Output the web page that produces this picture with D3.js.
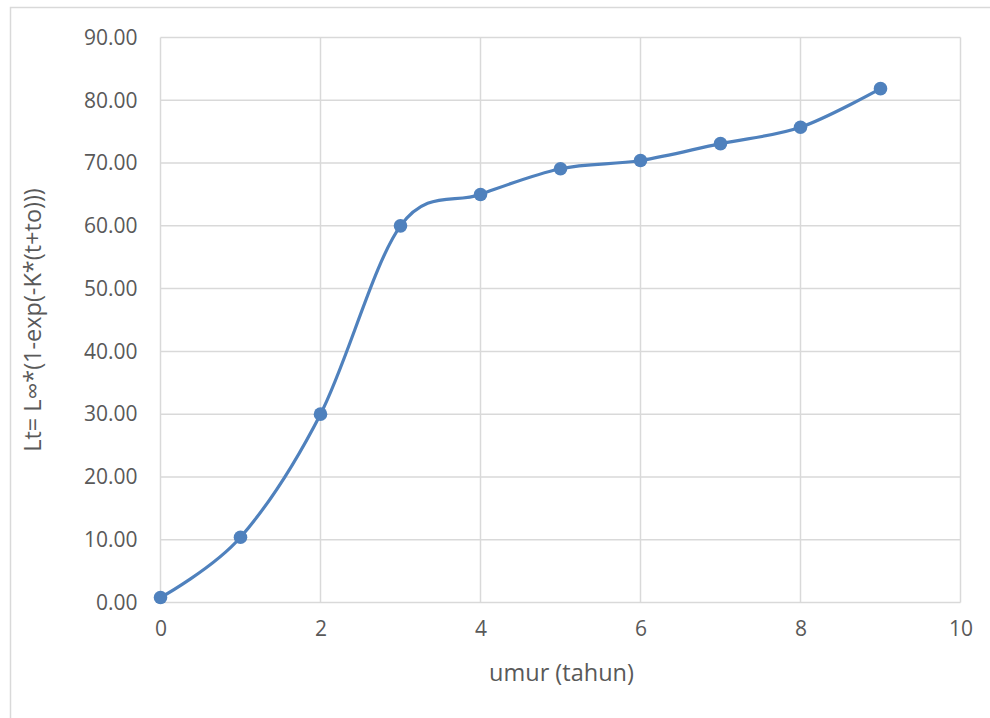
<!DOCTYPE html>
<html>
<head>
<meta charset="utf-8">
<script src="https://cdn.jsdelivr.net/npm/d3@7"></script>
<style>
  html, body { margin: 0; padding: 0; background: #fff; }
  svg { display: block; }
  text { font-family: "Open Sans", "Noto Sans", sans-serif; fill: #595959; }
</style>
</head>
<body>
<svg id="chart" width="990" height="718"></svg>
<script>
// Age (years) and computed length Lt
const ages = [0, 1, 2, 3, 4, 5, 6, 7, 8, 9];
const lengths = [0.8, 10.4, 30.0, 60.0, 65.0, 69.1, 70.4, 73.1, 75.7, 81.85];
const xTicks = [0, 2, 4, 6, 8, 10];
const yTicks = [0, 10, 20, 30, 40, 50, 60, 70, 80, 90];
const xTitle = "umur (tahun)";
const yTitle = "Lt= L∞*(1-exp(-K*(t+to)))";

const svg = d3.select("#chart");
const W = 990, H = 718;
const plot = { left: 160.5, right: 960.5, top: 37.5, bottom: 602.5 };
const gridColor = "#d9d9d9";
const seriesColor = "#4f81bd";

// outer chart frame
svg.append("rect")
  .attr("x", 10.5).attr("y", 7.5)
  .attr("width", W + 20).attr("height", H + 20)
  .attr("fill", "#fff").attr("stroke", gridColor).attr("stroke-width", 1.5);

const x = d3.scaleLinear().domain([0, 10]).range([plot.left, plot.right]);
const y = d3.scaleLinear().domain([0, 90]).range([plot.bottom, plot.top]);

// gridlines
const grid = svg.append("g");
grid.selectAll("line.h").data(yTicks).join("line")
  .attr("x1", plot.left).attr("x2", plot.right)
  .attr("y1", d => y(d)).attr("y2", d => y(d))
  .attr("stroke", gridColor).attr("stroke-width", 1.5);
grid.selectAll("line.v").data(xTicks).join("line")
  .attr("y1", plot.top).attr("y2", plot.bottom)
  .attr("x1", d => x(d)).attr("x2", d => x(d))
  .attr("stroke", gridColor).attr("stroke-width", 1.5);

// axes (labels only; lines are the grid)
const yAxis = svg.append("g")
  .attr("transform", `translate(${plot.left},0)`)
  .call(d3.axisLeft(y).tickValues(yTicks).tickFormat(d3.format(".2f")).tickSize(0).tickPadding(23));
const xAxis = svg.append("g")
  .attr("transform", `translate(0,${plot.bottom})`)
  .call(d3.axisBottom(x).tickValues(xTicks).tickFormat(d3.format("d")).tickSize(0).tickPadding(19));
[yAxis, xAxis].forEach(a => {
  a.select(".domain").remove();
  a.selectAll("text").attr("font-size", 21).attr("fill", "#595959")
    .style("font-family", '"Open Sans", "Noto Sans", sans-serif');
});

// axis titles
svg.append("text")
  .attr("x", (plot.left + plot.right) / 2 + 1).attr("y", 681)
  .attr("text-anchor", "middle").attr("font-size", 23.5)
  .text(xTitle);
svg.append("text")
  .attr("transform", `translate(41,${(plot.top + plot.bottom) / 2}) rotate(-90)`)
  .attr("text-anchor", "middle").attr("font-size", 23.5)
  .text(yTitle);

// smoothed series line
const data = ages.map((a, i) => ({ a, v: lengths[i] }));
const line = d3.line()
  .x(d => x(d.a)).y(d => y(d.v))
  .curve(d3.curveCatmullRom.alpha(0));
svg.append("path")
  .datum(data)
  .attr("d", line)
  .attr("fill", "none")
  .attr("stroke", seriesColor)
  .attr("stroke-width", 3.2)
  .attr("stroke-linejoin", "round");

// markers
svg.append("g").selectAll("circle").data(data).join("circle")
  .attr("cx", d => x(d.a)).attr("cy", d => y(d.v))
  .attr("r", 6.8)
  .attr("fill", seriesColor);
</script>
</body>
</html>
